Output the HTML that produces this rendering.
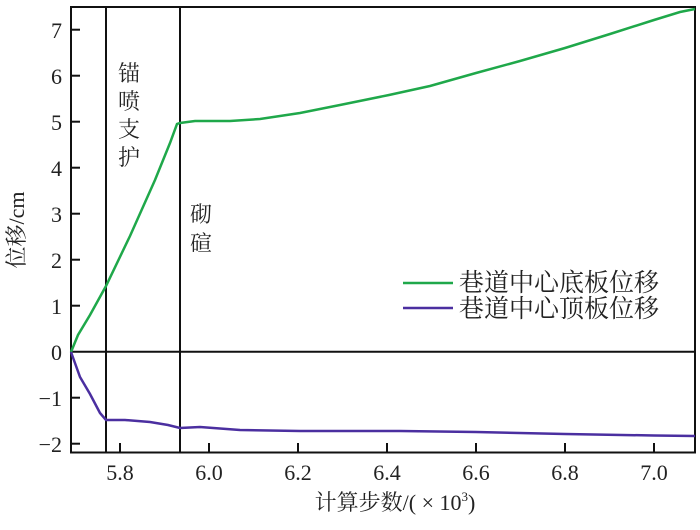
<!DOCTYPE html>
<html><head><meta charset="utf-8"><style>
html,body{margin:0;padding:0;background:#fff;}
svg text{font-family:"Liberation Serif","Noto Serif CJK SC",serif;fill:#222;}
</style></head><body>
<svg width="700" height="525" viewBox="0 0 700 525" xmlns="http://www.w3.org/2000/svg">
<rect x="0" y="0" width="700" height="525" fill="#fff"/>
<g stroke="#111" stroke-width="2" fill="none">
<rect x="71" y="7" width="624" height="445.5"/>
<line x1="71" y1="351.7" x2="695" y2="351.7"/>
<line x1="106" y1="7" x2="106" y2="452"/>
<line x1="180" y1="7" x2="180" y2="452"/>
</g>
<g stroke="#111" stroke-width="2">
<line x1="71" x2="80" y1="443.7" y2="443.7"/><line x1="71" x2="80" y1="397.7" y2="397.7"/>
<line x1="71" x2="80" y1="305.7" y2="305.7"/><line x1="71" x2="80" y1="259.7" y2="259.7"/>
<line x1="71" x2="80" y1="213.7" y2="213.7"/><line x1="71" x2="80" y1="167.7" y2="167.7"/>
<line x1="71" x2="80" y1="121.7" y2="121.7"/><line x1="71" x2="80" y1="75.7" y2="75.7"/>
<line x1="71" x2="80" y1="29.7" y2="29.7"/>
<line x1="120" x2="120" y1="452" y2="443"/><line x1="209" x2="209" y1="452" y2="443"/>
<line x1="298" x2="298" y1="452" y2="443"/><line x1="387" x2="387" y1="452" y2="443"/>
<line x1="476" x2="476" y1="452" y2="443"/><line x1="565" x2="565" y1="452" y2="443"/>
<line x1="654" x2="654" y1="452" y2="443"/>
</g>
<g font-size="22" text-anchor="end">
<text x="62" y="452">−2</text><text x="62" y="406">−1</text><text x="62" y="360">0</text>
<text x="62" y="314">1</text><text x="62" y="268">2</text><text x="62" y="222">3</text>
<text x="62" y="176">4</text><text x="62" y="130">5</text><text x="62" y="84">6</text>
<text x="62" y="38">7</text>
</g>
<g font-size="22" text-anchor="middle">
<text x="120" y="480">5.8</text><text x="209" y="480">6.0</text><text x="298" y="480">6.2</text>
<text x="387" y="480">6.4</text><text x="476" y="480">6.6</text><text x="565" y="480">6.8</text>
<text x="654" y="480">7.0</text>
<text x="395" y="510">计算步数/( × 10<tspan font-size="13" dy="-9">3</tspan><tspan dy="9">)</tspan></text>
</g>
<text transform="translate(24,230) rotate(-90)" font-size="22" text-anchor="middle">位移/cm</text>
<g font-size="22" text-anchor="middle">
<text x="129" y="81">锚</text><text x="129" y="109">喷</text><text x="129" y="137">支</text><text x="129" y="165">护</text>
<text x="201" y="222">砌</text><text x="201" y="251">碹</text>
</g>
<polyline fill="none" stroke="#1fa84a" stroke-width="2.5" points="71,352 78,335 90,315 106,286 130,236 155,180 170,143 177,124 180,123 195,121 230,121 260,119 300,113 340,105 389,95 430,86 476,73 520,61 565,48 610,34 654,20 680,12 695,9"/>
<polyline fill="none" stroke="#4b2fa0" stroke-width="2.5" points="71,352 80,377 90,394 100,413 106,420 125,420 150,422 168,425 180,428 200,427 240,430 300,431 400,431 476,432 565,434 654,435.5 695,436"/>
<line x1="403" y1="283" x2="453" y2="283" stroke="#1fa84a" stroke-width="2.5"/>
<line x1="403" y1="308" x2="453" y2="308" stroke="#4b2fa0" stroke-width="2.5"/>
<g font-size="25"><text x="459" y="291">巷道中心底板位移</text><text x="459" y="317">巷道中心顶板位移</text></g>
</svg>
</body></html>
